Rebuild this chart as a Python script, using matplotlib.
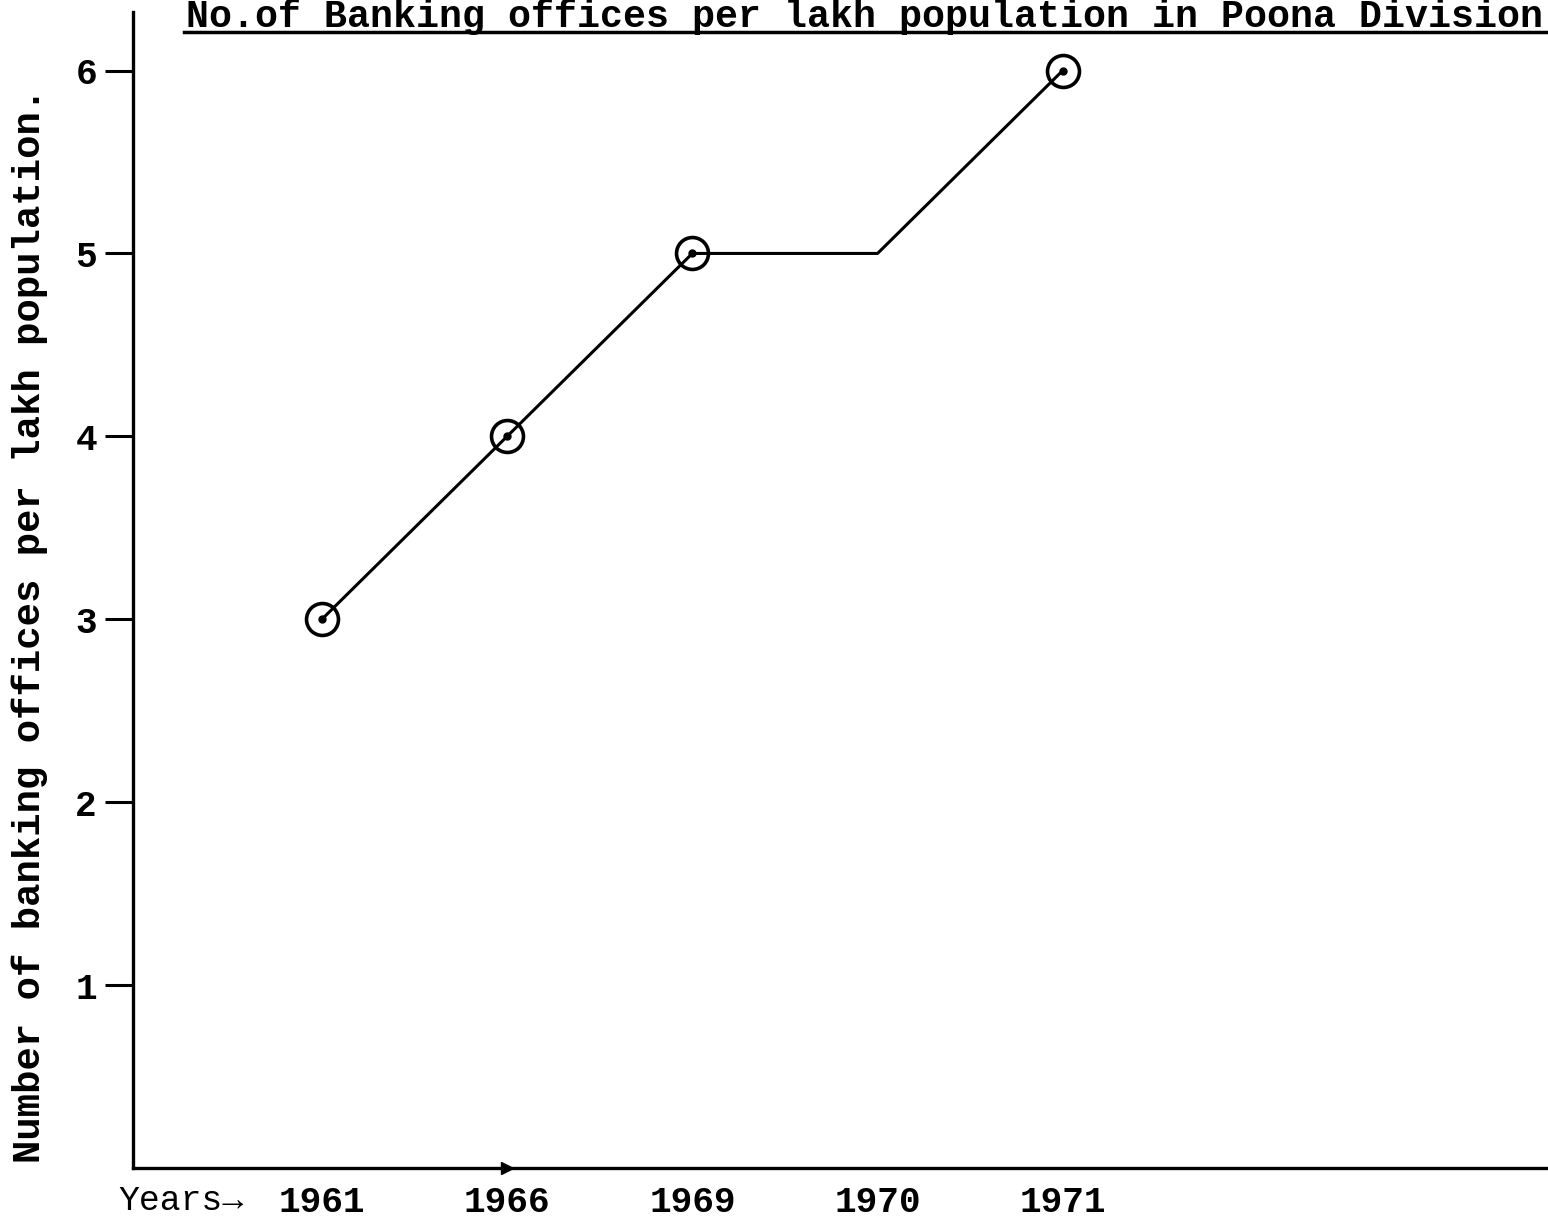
import matplotlib.pyplot as plt
import matplotlib.lines as mlines

# данные графика
years = ['1961', '1966', '1969', '1970', '1971']
offices = [3, 4, 5, 5, 6]
circled = [0, 1, 2, 4]   # у точки 1970 кружка нет
yticks = [1, 2, 3, 4, 5, 6]

mono = ['Liberation Mono', 'DejaVu Sans Mono']

W, H = 1548, 1223
fig = plt.figure(figsize=(W / 100, H / 100), dpi=100)
ax = fig.add_axes([133 / W, 1 - 1168 / H, 1 - 133 / W, (1168 - 12) / H])

x = list(range(len(years)))
ax.plot(x, offices, color='black', lw=2.2)
ax.plot([x[i] for i in circled], [offices[i] for i in circled], 'o',
        ms=23, mfc='none', mec='black', mew=2.6)
ax.plot([x[i] for i in circled], [offices[i] for i in circled], 'o',
        ms=5, color='black')

ax.set_xlim(-1.02, 6.62)
ax.set_ylim(0, 6.32)

for s in ['top', 'right']:
    ax.spines[s].set_visible(False)
for s in ['left', 'bottom']:
    ax.spines[s].set_linewidth(2.4)

ax.set_xticks(x)
ax.set_xticklabels(years, fontfamily=mono, fontweight='bold', fontsize=26)
ax.tick_params(axis='x', length=0, pad=12)

ax.set_yticks(yticks)
ax.set_yticklabels([str(v) for v in yticks], fontfamily=mono,
                   fontweight='bold', fontsize=26)
ax.tick_params(axis='y', length=20, width=2.2, pad=6)

# маленькая стрелка на оси X у 1966
ax.plot([1], [0], marker='>', ms=8, color='black', clip_on=False)

fig.text(118 / W, 1 - 1200 / H, 'Years\u2192', fontfamily=mono, fontsize=25,
         ha='left', va='center')

# подпись оси Y — отдельным текстом слева
fig.text(30 / W, 1 - 625 / H,
         'Number of banking offices per lakh population.',
         fontfamily=mono, fontweight='bold', fontsize=28,
         rotation=90, ha='center', va='center')

fig.text(186 / W, 1 - 27 / H,
         'No.of Banking offices per lakh population in Poona Division',
         fontfamily=mono, fontweight='bold', fontsize=27.5, ha='left',
         va='baseline')
fig.add_artist(mlines.Line2D([184 / W, 1.0], [1 - 32 / H, 1 - 32 / H],
                             color='black', lw=2.5))

fig.savefig('out.png', dpi=100)
